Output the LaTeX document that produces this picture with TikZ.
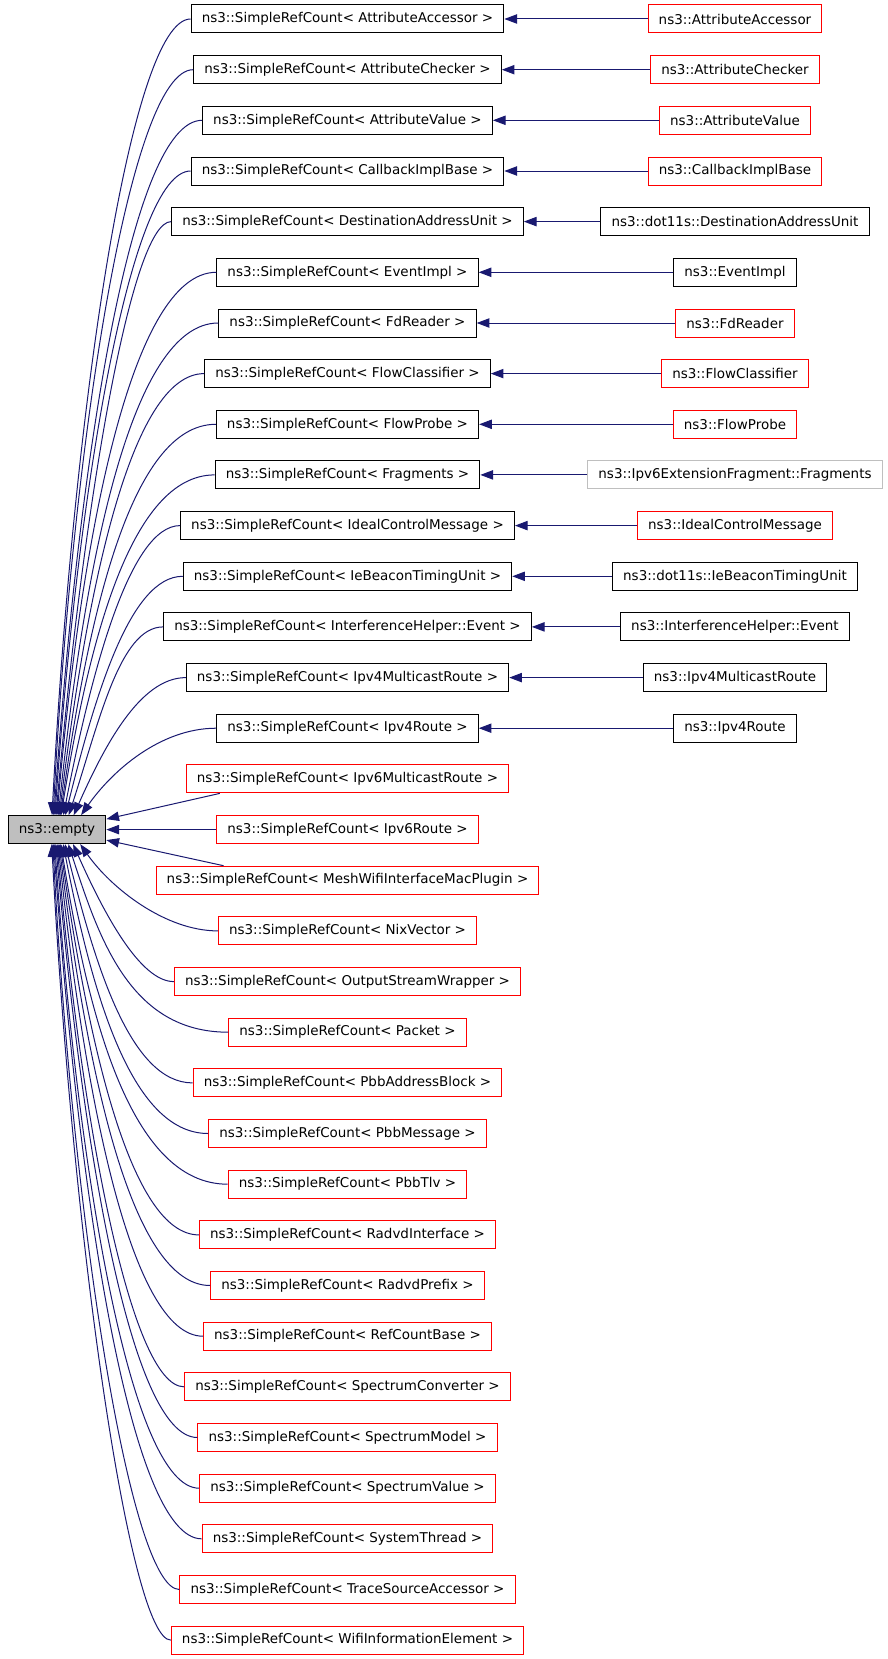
\documentclass[tikz,border=0pt]{standalone}
\usepackage{fontspec}
\setmainfont{DejaVu Sans}
\usetikzlibrary{arrows.meta,calc}
\definecolor{navy}{HTML}{191970}
\definecolor{greyline}{HTML}{BFBFBF}
\definecolor{greyfill}{HTML}{BFBFBF}

\begin{document}
\begin{tikzpicture}[x=0.75pt,y=-0.75pt,
    box/.style={draw=black, line width=0.75pt, inner xsep=8pt, inner ysep=0pt,
        minimum height=21pt, font=\fontsize{10.1pt}{12pt}\selectfont},
    redbox/.style={box, draw=red},
    greybox/.style={box, draw=greyline},
    inh/.style={navy, line width=0.75pt, -{Triangle[length=9.5pt,width=7pt]}}]
        \useasboundingbox (0,0) rectangle (888,1659);

        % base class
        \node[box, fill=greyfill] (empty) at (57,829.6) {ns3::empty};

        % SimpleRefCount instances
        \node[box] (s1) at (347.5,19.0) {ns3::SimpleRefCount< AttributeAccessor >};
        \node[box] (s2) at (347.5,69.7) {ns3::SimpleRefCount< AttributeChecker >};
        \node[box] (s3) at (347.5,120.3) {ns3::SimpleRefCount< AttributeValue >};
        \node[box] (s4) at (347.5,171.0) {ns3::SimpleRefCount< CallbackImplBase >};
        \node[box] (s5) at (347.5,221.6) {ns3::SimpleRefCount< DestinationAddressUnit >};
        \node[box] (s6) at (347.5,272.3) {ns3::SimpleRefCount< EventImpl >};
        \node[box] (s7) at (347.5,323.0) {ns3::SimpleRefCount< FdReader >};
        \node[box] (s8) at (347.5,373.6) {ns3::SimpleRefCount< FlowClassifier >};
        \node[box] (s9) at (347.5,424.3) {ns3::SimpleRefCount< FlowProbe >};
        \node[box] (s10) at (347.5,474.9) {ns3::SimpleRefCount< Fragments >};
        \node[box] (s11) at (347.5,525.6) {ns3::SimpleRefCount< IdealControlMessage >};
        \node[box] (s12) at (347.5,576.3) {ns3::SimpleRefCount< IeBeaconTimingUnit >};
        \node[box] (s13) at (347.5,626.9) {ns3::SimpleRefCount< InterferenceHelper::Event >};
        \node[box] (s14) at (347.5,677.6) {ns3::SimpleRefCount< Ipv4MulticastRoute >};
        \node[box] (s15) at (347.5,728.2) {ns3::SimpleRefCount< Ipv4Route >};
        \node[redbox] (s16) at (347.5,778.9) {ns3::SimpleRefCount< Ipv6MulticastRoute >};
        \node[redbox] (s17) at (347.5,829.6) {ns3::SimpleRefCount< Ipv6Route >};
        \node[redbox] (s18) at (347.5,880.2) {ns3::SimpleRefCount< MeshWifiInterfaceMacPlugin >};
        \node[redbox] (s19) at (347.5,930.9) {ns3::SimpleRefCount< NixVector >};
        \node[redbox] (s20) at (347.5,981.6) {ns3::SimpleRefCount< OutputStreamWrapper >};
        \node[redbox] (s21) at (347.5,1032.2) {ns3::SimpleRefCount< Packet >};
        \node[redbox] (s22) at (347.5,1082.9) {ns3::SimpleRefCount< PbbAddressBlock >};
        \node[redbox] (s23) at (347.5,1133.5) {ns3::SimpleRefCount< PbbMessage >};
        \node[redbox] (s24) at (347.5,1184.2) {ns3::SimpleRefCount< PbbTlv >};
        \node[redbox] (s25) at (347.5,1234.9) {ns3::SimpleRefCount< RadvdInterface >};
        \node[redbox] (s26) at (347.5,1285.5) {ns3::SimpleRefCount< RadvdPrefix >};
        \node[redbox] (s27) at (347.5,1336.2) {ns3::SimpleRefCount< RefCountBase >};
        \node[redbox] (s28) at (347.5,1386.8) {ns3::SimpleRefCount< SpectrumConverter >};
        \node[redbox] (s29) at (347.5,1437.5) {ns3::SimpleRefCount< SpectrumModel >};
        \node[redbox] (s30) at (347.5,1488.2) {ns3::SimpleRefCount< SpectrumValue >};
        \node[redbox] (s31) at (347.5,1538.8) {ns3::SimpleRefCount< SystemThread >};
        \node[redbox] (s32) at (347.5,1589.5) {ns3::SimpleRefCount< TraceSourceAccessor >};
        \node[redbox] (s33) at (347.5,1640.1) {ns3::SimpleRefCount< WifiInformationElement >};

        % derived classes
        \node[redbox] (d1) at (735,19.0) {ns3::AttributeAccessor};
        \node[redbox] (d2) at (735,69.7) {ns3::AttributeChecker};
        \node[redbox] (d3) at (735,120.3) {ns3::AttributeValue};
        \node[redbox] (d4) at (735,171.0) {ns3::CallbackImplBase};
        \node[box] (d5) at (735,221.6) {ns3::dot11s::DestinationAddressUnit};
        \node[box] (d6) at (735,272.3) {ns3::EventImpl};
        \node[redbox] (d7) at (735,323.0) {ns3::FdReader};
        \node[redbox] (d8) at (735,373.6) {ns3::FlowClassifier};
        \node[redbox] (d9) at (735,424.3) {ns3::FlowProbe};
        \node[greybox] (d10) at (735,474.9) {ns3::Ipv6ExtensionFragment::Fragments};
        \node[redbox] (d11) at (735,525.6) {ns3::IdealControlMessage};
        \node[box] (d12) at (735,576.3) {ns3::dot11s::IeBeaconTimingUnit};
        \node[box] (d13) at (735,626.9) {ns3::InterferenceHelper::Event};
        \node[box] (d14) at (735,677.6) {ns3::Ipv4MulticastRoute};
        \node[box] (d15) at (735,728.2) {ns3::Ipv4Route};

        % derived -> SimpleRefCount
        \draw[inh] (d1) -- (s1);
        \draw[inh] (d2) -- (s2);
        \draw[inh] (d3) -- (s3);
        \draw[inh] (d4) -- (s4);
        \draw[inh] (d5) -- (s5);
        \draw[inh] (d6) -- (s6);
        \draw[inh] (d7) -- (s7);
        \draw[inh] (d8) -- (s8);
        \draw[inh] (d9) -- (s9);
        \draw[inh] (d10) -- (s10);
        \draw[inh] (d11) -- (s11);
        \draw[inh] (d12) -- (s12);
        \draw[inh] (d13) -- (s13);
        \draw[inh] (d14) -- (s14);
        \draw[inh] (d15) -- (s15);

        % SimpleRefCount -> empty, upper half
        \draw[inh] (s1.west) .. controls (130,19.0) and +(20.9,-398.3) .. (empty.109.7);
        \draw[inh] (s2.west) .. controls (130,69.7) and +(19.5,-373.0) .. (empty.105.9);
        \draw[inh] (s3.west) .. controls (130,120.3) and +(24.3,-347.7) .. (empty.102.1);
        \draw[inh] (s4.west) .. controls (130,171.0) and +(22.5,-322.3) .. (empty.98.1);
        \draw[inh] (s5.west) .. controls (130,221.6) and +(26.0,-297.0) .. (empty.94.1);
        \draw[inh] (s6.west) .. controls (130,272.3) and +(23.8,-271.7) .. (empty.90);
        \draw[inh] (s7.west) .. controls (130,323.0) and +(25.9,-246.3) .. (empty.85.9);
        \draw[inh] (s8.west) .. controls (130,373.6) and +(27.1,-221.0) .. (empty.81.9);
        \draw[inh] (s9.west) .. controls (130,424.3) and +(27.5,-195.7) .. (empty.77.9);
        \draw[inh] (s10.west) .. controls (130,474.9) and +(27.0,-170.3) .. (empty.74.1);
        \draw[inh] (s11.west) .. controls (130,525.6) and +(28.2,-145.0) .. (empty.66.8);
        \draw[inh] (s12.west) .. controls (130,576.3) and +(29.8,-119.7) .. (empty.60.3);
        \draw[inh] (s13.west) .. controls (120,626.9) and +(30.6,-94.3) .. (empty.51.8);
        \draw[inh] (s14.west) .. controls (140,677.6) and +(30.7,-69.0) .. (empty.41.2);
        \draw[inh] (s15.west) .. controls (160,728.2) and +(30.6,-43.7) .. (empty.31.3);

        % SimpleRefCount -> empty, middle
        \draw[inh] ($(s16.south west)+(34,0)$) -- (empty.12);
        \draw[inh] (s17.west) -- (empty.east);
        \draw[inh] ($(s18.north west)+(68,0)$) -- (empty.348);

        % SimpleRefCount -> empty, lower half
        \draw[inh] (s19.west) .. controls (165,930.9) and +(30.6,43.7) .. (empty.328.7);
        \draw[inh] (s20.west) .. controls (140,981.6) and +(30.7,69.0) .. (empty.318.8);
        \draw[inh] (s21.west) .. controls (130,1032.2) and +(30.6,94.3) .. (empty.308.2);
        \draw[inh] (s22.west) .. controls (130,1082.9) and +(29.8,119.7) .. (empty.299.7);
        \draw[inh] (s23.west) .. controls (130,1133.5) and +(28.2,145.0) .. (empty.293.2);
        \draw[inh] (s24.west) .. controls (130,1184.2) and +(27.0,170.3) .. (empty.285.9);
        \draw[inh] (s25.west) .. controls (130,1234.9) and +(27.5,195.7) .. (empty.282.1);
        \draw[inh] (s26.west) .. controls (130,1285.5) and +(27.1,221.0) .. (empty.278.1);
        \draw[inh] (s27.west) .. controls (130,1336.2) and +(25.9,246.3) .. (empty.274.1);
        \draw[inh] (s28.west) .. controls (130,1386.8) and +(23.8,271.6) .. (empty.270);
        \draw[inh] (s29.west) .. controls (130,1437.5) and +(26.0,297.0) .. (empty.265.9);
        \draw[inh] (s30.west) .. controls (130,1488.2) and +(22.5,322.3) .. (empty.261.9);
        \draw[inh] (s31.west) .. controls (130,1538.8) and +(24.3,347.6) .. (empty.257.9);
        \draw[inh] (s32.west) .. controls (130,1589.5) and +(19.5,373.0) .. (empty.254.1);
        \draw[inh] (s33.west) .. controls (130,1640.1) and +(20.9,398.3) .. (empty.250.3);
    \end{tikzpicture}
\end{document}
